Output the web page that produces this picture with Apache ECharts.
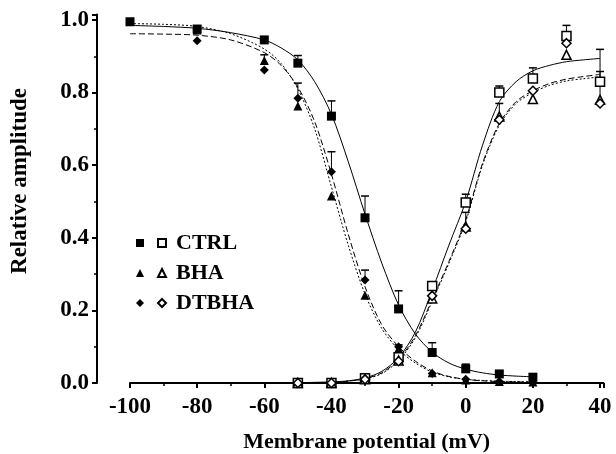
<!DOCTYPE html>
<html>
<head>
<meta charset="utf-8">
<script src="https://cdn.jsdelivr.net/npm/echarts@6/dist/echarts.min.js"></script>
<style>
  html, body { margin: 0; padding: 0; background: #fff; }
  #chart { width: 616px; height: 454px; }
</style>
</head>
<body>
<div id="chart"></div>
<script>
// measured points (inactivation = filled, activation = open)
const inactV = [-100, -80, -60, -50, -40, -30, -20, -10, 0, 10, 20];
const ctrlInact = [0.995, 0.975, 0.945, 0.881, 0.735, 0.455, 0.204, 0.084, 0.039, 0.025, 0.016];
const bhaInact = [null, 0.972, 0.888, 0.763, 0.515, 0.242, 0.095, 0.028, 0.008, 0.004, 0.003];
const dtbhaInact = [null, 0.943, 0.862, 0.784, 0.582, 0.284, 0.1, 0.026, 0.01, 0.004, 0.002];

const actV = [-50, -40, -30, -20, -10, 0, 10, 20, 30, 40];
const ctrlAct = [0.0, 0.0, 0.013, 0.071, 0.267, 0.497, 0.80, 0.839, 0.956, 0.83];
const bhaAct = [0.0, 0.0, 0.01, 0.062, 0.233, 0.431, 0.734, 0.782, 0.904, 0.78];
const dtbhaAct = [0.0, 0.0, 0.01, 0.06, 0.24, 0.425, 0.725, 0.805, 0.936, 0.77];

// error bars: [mV, point, upper]
const ctrlInactErr = [[-50, 0.881, 0.902], [-40, 0.735, 0.777], [-30, 0.455, 0.515], [-20, 0.204, 0.254], [-10, 0.084, 0.111], [0, 0.039, 0.052]];
const drugInactErr = [[-60, 0.888, 0.904], [-50, 0.784, 0.826], [-40, 0.582, 0.637], [-30, 0.284, 0.311], [-20, 0.1, 0.105]];
const ctrlActErr = [[0, 0.497, 0.52], [10, 0.80, 0.818], [20, 0.839, 0.868], [30, 0.956, 0.985], [40, 0.83, 0.919]];
const drugActErr = [[0, 0.431, 0.47], [10, 0.734, 0.77], [40, 0.78, 0.858]];

// fitted curves
const fitInactV = [-100, -90, -80, -70, -60, -55, -50, -45, -40, -35, -30, -25, -20, -15, -10, -5, 0, 5, 10, 15, 20];
const ctrlInactFit = [0.985, 0.982, 0.977, 0.965, 0.945, 0.923, 0.89, 0.83, 0.74, 0.61, 0.465, 0.33, 0.215, 0.135, 0.085, 0.055, 0.038, 0.028, 0.022, 0.019, 0.017];
const bhaInactFit = [0.99, 0.988, 0.982, 0.962, 0.92, 0.88, 0.81, 0.7, 0.54, 0.38, 0.245, 0.15, 0.092, 0.055, 0.03, 0.017, 0.01, 0.007, 0.005, 0.004, 0.003];
const dtbhaInactFit = [0.962, 0.961, 0.958, 0.945, 0.91, 0.875, 0.815, 0.72, 0.575, 0.41, 0.265, 0.16, 0.1, 0.06, 0.033, 0.018, 0.01, 0.006, 0.004, 0.003, 0.002];

const fitActV = [-50, -40, -35, -30, -25, -20, -15, -10, -5, 0, 5, 10, 15, 20, 25, 30, 35, 40];
const ctrlActFit = [0.001, 0.003, 0.006, 0.014, 0.032, 0.07, 0.14, 0.255, 0.38, 0.5, 0.655, 0.775, 0.83, 0.86, 0.875, 0.885, 0.89, 0.894];
const bhaActFit = [0.001, 0.002, 0.005, 0.011, 0.026, 0.062, 0.125, 0.225, 0.33, 0.445, 0.6, 0.71, 0.77, 0.8, 0.82, 0.832, 0.838, 0.843];
const dtbhaActFit = [0.001, 0.002, 0.005, 0.012, 0.028, 0.065, 0.13, 0.23, 0.335, 0.45, 0.605, 0.715, 0.775, 0.805, 0.825, 0.837, 0.844, 0.85];

const xTicks = { min: -100, max: 41, interval: 20 };
const yTicks = { min: 0, max: 1.015, interval: 0.2 };

const FONT = 'Liberation Serif';

function pairs(xs, ys) {
    return xs.map((x, i) => [x, ys[i]]).filter(p => p[1] !== null);
}

function errRender(params, api) {
    const x = api.value(0);
    const p1 = api.coord([x, api.value(1)]);
    const p2 = api.coord([x, api.value(2)]);
    return {
        type: 'group',
        children: [
            { type: 'line', shape: { x1: p1[0], y1: p1[1], x2: p2[0], y2: p2[1] }, style: { stroke: '#000', lineWidth: 1 } },
            { type: 'line', shape: { x1: p2[0] - 4, y1: p2[1], x2: p2[0] + 4, y2: p2[1] }, style: { stroke: '#000', lineWidth: 1.5 } }
        ]
    };
}

function fitLine(name, xs, ys, dash) {
    return {
        name: name, type: 'line', data: pairs(xs, ys), smooth: 0.3, showSymbol: false, silent: true, z: 2,
        lineStyle: { color: '#000', width: 1, type: dash }
    };
}

function marks(name, xs, ys, symbol, size, open) {
    return {
        name: name, type: 'scatter', data: pairs(xs, ys), symbol: symbol, symbolSize: size, z: 5,
        itemStyle: open ? { color: '#fff', borderColor: '#000', borderWidth: 1.5, opacity: 1 } : { color: '#000', opacity: 1 }
    };
}

function errs(data) {
    return { type: 'custom', renderItem: errRender, data: data, z: 3, silent: true };
}

let myChart = echarts.init(document.getElementById('chart'));
let option = {
    backgroundColor: '#fff',
    animation: false,
    grid: { left: 130, right: 12.6, top: 14.5, bottom: 71, containLabel: false, outerBoundsMode: 'none' },
    xAxis: {
        type: 'value', min: xTicks.min, max: xTicks.max, interval: xTicks.interval,
        name: 'Membrane potential (mV)', nameLocation: 'middle', nameGap: 48,
        nameTextStyle: { fontFamily: FONT, fontWeight: 'bold', fontSize: 22, color: '#000' },
        axisLine: { onZero: false, lineStyle: { color: '#000', width: 2 } },
        axisTick: { length: 5, lineStyle: { color: '#000', width: 2 } },
        minorTick: { show: true, splitNumber: 2, length: 3, lineStyle: { color: '#000', width: 1.5 } },
        splitLine: { show: false },
        axisLabel: { margin: 13, fontFamily: FONT, fontWeight: 'bold', fontSize: 23, color: '#000', showMaxLabel: false,
            formatter: v => (v % 20 === 0 ? String(v) : '') }
    },
    yAxis: {
        type: 'value', min: yTicks.min, max: yTicks.max, interval: yTicks.interval, offset: 33,
        axisLine: { show: true, onZero: false, lineStyle: { color: '#000', width: 2 } },
        axisTick: { show: true, length: 5, lineStyle: { color: '#000', width: 2 } },
        minorTick: { show: true, splitNumber: 2, length: 3, lineStyle: { color: '#000', width: 1.5 } },
        splitLine: { show: false },
        axisLabel: { margin: 8, fontFamily: FONT, fontWeight: 'bold', fontSize: 23, color: '#000',
            formatter: v => v.toFixed(1) }
    },
    legend: [
        {
            data: ['CTRL', 'BHA', 'DTBHA'], orient: 'vertical', left: 131, top: 223,
            itemWidth: 8, itemHeight: 8, itemGap: 0, selectedMode: false,
            formatter: () => ' ',
            textStyle: { fontSize: 22, lineHeight: 30, fontFamily: FONT }
        },
        {
            data: ['CTRL act', 'BHA act', 'DTBHA act'], orient: 'vertical', left: 152, top: 223,
            itemWidth: 8, itemHeight: 8, itemGap: 0, selectedMode: false,
            formatter: n => n.replace(' act', ''),
            textStyle: { fontSize: 22, lineHeight: 30, fontFamily: FONT, fontWeight: 'bold', color: '#000', padding: [0, 0, 0, 5] }
        }
    ],
    graphic: [
        { type: 'text', x: 20, y: 181, rotation: Math.PI / 2,
          style: { text: 'Relative amplitude', font: 'bold 23px "Liberation Serif"', fill: '#000', align: 'center', verticalAlign: 'middle' } }
    ],
    series: [
        fitLine('fit1', fitInactV, ctrlInactFit, 'solid'),
        fitLine('fit2', fitInactV, bhaInactFit, [2, 2]),
        fitLine('fit3', fitInactV, dtbhaInactFit, [6, 3]),
        fitLine('fit4', fitActV, ctrlActFit, 'solid'),
        fitLine('fit5', fitActV, bhaActFit, [2, 2]),
        fitLine('fit6', fitActV, dtbhaActFit, [6, 3]),
        errs(ctrlInactErr), errs(drugInactErr), errs(ctrlActErr), errs(drugActErr),
        marks('CTRL', inactV, ctrlInact, 'rect', 9, false),
        marks('BHA', inactV, bhaInact, 'triangle', 9, false),
        marks('DTBHA', inactV, dtbhaInact, 'diamond', 9, false),
        marks('CTRL act', actV, ctrlAct, 'rect', 9, true),
        marks('BHA act', actV, bhaAct, 'triangle', 9, true),
        marks('DTBHA act', actV, dtbhaAct, 'diamond', 9, true)
    ]
};
myChart.setOption(option);
window.addEventListener('resize', function () {
    myChart.resize();
});
</script>
</body>
</html>
